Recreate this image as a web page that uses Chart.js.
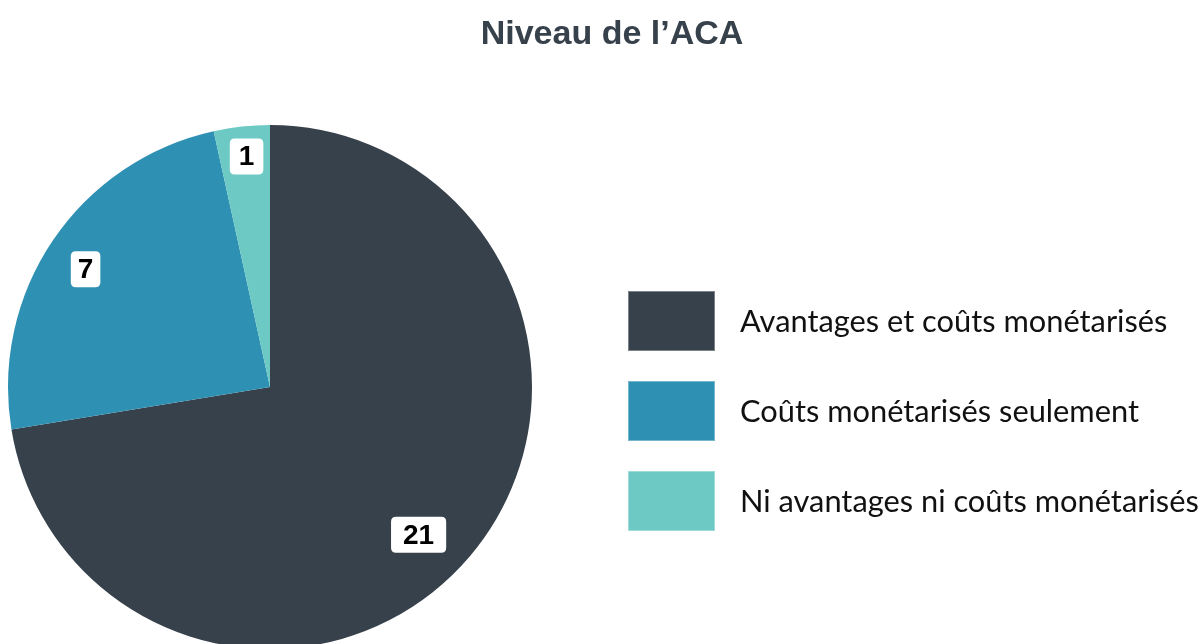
<!DOCTYPE html>
<html>
<head>
<meta charset="utf-8">
<script src="https://cdn.jsdelivr.net/npm/chart.js@4"></script>
<style>
  html, body { margin: 0; padding: 0; background: #fff; overflow: hidden; }
  #wrap { position: relative; width: 1202px; height: 660px; }
</style>
</head>
<body>
<div id="wrap"><canvas id="chart"></canvas></div>
<script>
const chartTitle = "Niveau de l\u2019ACA";
const categories = [
    "Avantages et coûts monétarisés",
    "Coûts monétarisés seulement",
    "Ni avantages ni coûts monétarisés"
];
const counts = [21, 7, 1];
const sliceColors = ["#37414b", "#2e90b3", "#6cc9c3"];

// label placement tweaks (fraction of radius, angle shift in degrees, box padding)
const labelRadius = [0.80, 0.835, 0.884];
const labelShift = [4.5, -1.6, 0.4];
const labelPad = [12, 7, 9];

function roundRect(ctx, x, y, w, h, r) {
    ctx.beginPath();
    ctx.moveTo(x + r, y);
    ctx.lineTo(x + w - r, y);
    ctx.quadraticCurveTo(x + w, y, x + w, y + r);
    ctx.lineTo(x + w, y + h - r);
    ctx.quadraticCurveTo(x + w, y + h, x + w - r, y + h);
    ctx.lineTo(x + r, y + h);
    ctx.quadraticCurveTo(x, y + h, x, y + h - r);
    ctx.lineTo(x, y + r);
    ctx.quadraticCurveTo(x, y, x + r, y);
    ctx.closePath();
}

// value boxes, title and legend drawn on top of the pie
const decorPlugin = {
    id: "decor",
    afterDraw(chart) {
        const ctx = chart.ctx;
        const meta = chart.getDatasetMeta(0);
        ctx.save();

        // value labels
        ctx.font = "bold 28px 'Liberation Sans', Arial, sans-serif";
        ctx.textAlign = "center";
        ctx.textBaseline = "middle";
        meta.data.forEach((arc, i) => {
            const p = arc.getProps(["x", "y", "startAngle", "endAngle", "outerRadius"], true);
            const mid = (p.startAngle + p.endAngle) / 2 + labelShift[i] * Math.PI / 180;
            const r = p.outerRadius * labelRadius[i];
            const cx = p.x + Math.cos(mid) * r;
            const cy = p.y + Math.sin(mid) * r;
            const txt = String(counts[i]);
            const w = ctx.measureText(txt).width + labelPad[i] * 2;
            const h = 36;
            roundRect(ctx, cx - w / 2, cy - h / 2, w, h, 5);
            ctx.fillStyle = "#ffffff";
            ctx.fill();
            ctx.fillStyle = "#000000";
            ctx.fillText(txt, cx, cy + 1);
        });

        // title
        ctx.font = "bold 34px 'Liberation Sans', Arial, sans-serif";
        ctx.fillStyle = "#37414b";
        ctx.textBaseline = "alphabetic";
        ctx.fillText(chartTitle, 612, 44);

        // legend
        ctx.textAlign = "left";
        ctx.textBaseline = "middle";
        ctx.font = "30.8px Lato, 'Open Sans', sans-serif";
        categories.forEach((name, i) => {
            const y = 291 + i * 90;
            ctx.fillStyle = sliceColors[i];
            ctx.fillRect(628, y, 87, 60);
            ctx.strokeStyle = "rgba(255,255,255,0.35)";
            ctx.lineWidth = 1;
            ctx.strokeRect(628.5, y + 0.5, 86, 59);
            ctx.fillStyle = "#111111";
            ctx.fillText(name, 740, y + 31);
        });
        ctx.restore();
    }
};

new Chart(document.getElementById("chart"), {
    type: "pie",
    data: {
        labels: categories,
        datasets: [{
            data: counts,
            backgroundColor: sliceColors,
            borderWidth: 0
        }]
    },
    options: {
        responsive: true,
        maintainAspectRatio: false,
        animation: false,
        layout: { padding: { left: 8, right: 670, top: 125, bottom: 11 } },
        plugins: {
            legend: { display: false },
            tooltip: { enabled: false },
            title: { display: false }
        }
    },
    plugins: [decorPlugin]
});
</script>
</body>
</html>
